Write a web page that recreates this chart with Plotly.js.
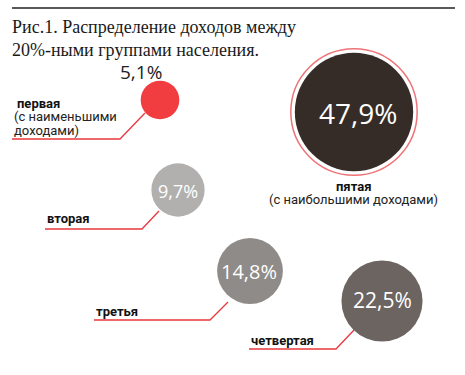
<!DOCTYPE html>
<html>
<head>
<meta charset="utf-8">
<script src="https://cdn.plot.ly/plotly-3.0.1.min.js"></script>
<style>html,body{margin:0;padding:0;background:#fff;}#chart{width:465px;height:375px;}</style>
</head>
<body>
<div id="chart"></div>
<script>
// ---- data ----
const groups = ['первая', 'вторая', 'третья', 'четвертая', 'пятая'];
const groupNotes = [['(с наименьшими', 'доходами)'], [], [], [], ['(с наибольшими доходами)']];
const shares = [5.1, 9.7, 14.8, 22.5, 47.9];
const titleLines = ['Рис.1. Распределение доходов между', '20%-ными группами населения.'];

// ---- layout positions (pixels, y downward) ----
const centers = [[160, 100], [178, 190], [250, 271], [382, 301], [354, 112]];
const colors = ['#f23d40', '#b2b0ae', '#8f8b88', '#6b6461', '#352c28'];
const leaders = [
  [[12, 139], [120, 139], [145, 113]],
  [[45, 229], [142, 229], [159, 211]],
  [[94, 320], [210, 320], [228, 302]],
  [[249, 349], [336, 349], [354, 330]],
  null
];
const K = 8.55; // radius per sqrt(percent)

const fmt = v => String(v).replace('.', ',') + '%';
const diam = v => 2 * K * Math.sqrt(v);

const traces = [];
// ring around the largest group
traces.push({
  type: 'scatter', mode: 'markers', hoverinfo: 'skip', showlegend: false,
  x: [centers[4][0]], y: [centers[4][1]],
  marker: {size: [diam(shares[4]) + 8], color: 'rgba(255,255,255,0)', line: {color: '#e8383d', width: 1.5}}
});
// leader lines
leaders.forEach(l => {
  if (!l) return;
  traces.push({
    type: 'scatter', mode: 'lines', hoverinfo: 'skip', showlegend: false,
    x: l.map(p => p[0]), y: l.map(p => p[1]),
    line: {color: '#e8383d', width: 1.3}
  });
});
// bubbles
traces.push({
  type: 'scatter', mode: 'markers', hoverinfo: 'skip', showlegend: false,
  x: centers.map(c => c[0]), y: centers.map(c => c[1]),
  marker: {size: shares.map(diam), color: colors, line: {width: 0}, opacity: 1}
});

const annotations = [];
const valFont = ['#222', '#fff', '#fff', '#fff', '#fff'];
const valSize = [19, 18, 20, 21, 28];
const valOff = [[-19, -28], [0, 1], [-1, 0], [0, -1], [4, 1]];
shares.forEach((v, i) => {
  annotations.push({
    x: centers[i][0] + valOff[i][0], y: centers[i][1] + valOff[i][1],
    xref: 'x', yref: 'y', text: fmt(v), showarrow: false,
    xanchor: 'center', yanchor: 'middle',
    font: {family: 'Open Sans, sans-serif', size: valSize[i], color: valFont[i]}
  });
});
// group labels
const labPos = [[15, 103, 'left'], [45, 218, 'left'], [94, 311, 'left'], [249, 340, 'left'], [353, 186, 'center']];
groups.forEach((g, i) => {
  annotations.push({
    x: labPos[i][0], y: labPos[i][1], xref: 'x', yref: 'y',
    text: '<b>' + g + '</b>', showarrow: false,
    xanchor: labPos[i][2], yanchor: 'middle',
    font: {family: 'Roboto, sans-serif', size: 13, color: '#111'}
  });
  groupNotes[i].forEach((t, j) => {
    annotations.push({
      x: labPos[i][2] === 'left' ? 12 : labPos[i][0], y: labPos[i][1] + 13.5 * (j + 1), xref: 'x', yref: 'y',
      text: t, showarrow: false,
      xanchor: labPos[i][2], yanchor: 'middle',
      font: {family: 'Roboto, sans-serif', size: 13, color: '#222'}
    });
  });
});

const layout = {
  width: 465, height: 375,
  margin: {l: 0, r: 0, t: 0, b: 0},
  paper_bgcolor: '#fff', plot_bgcolor: '#fff',
  showlegend: false,
  title: {
    text: titleLines.join('<br>'),
    x: 12 / 465, xanchor: 'left', xref: 'container',
    y: 1 - 33 / 375, yanchor: 'top', yref: 'container',
    font: {family: 'Liberation Serif, serif', size: 18, color: '#1a1a1a'}
  },
  xaxis: {range: [0, 465], visible: false, fixedrange: true},
  yaxis: {range: [375, 0], visible: false, fixedrange: true},
  shapes: [{type: 'line', xref: 'x', yref: 'y', x0: 12, x1: 455, y0: 8, y1: 8, line: {color: '#222', width: 1.5}}],
  annotations: annotations
};

Plotly.newPlot('chart', traces, layout, {staticPlot: true, displayModeBar: false});
</script>
</body>
</html>
